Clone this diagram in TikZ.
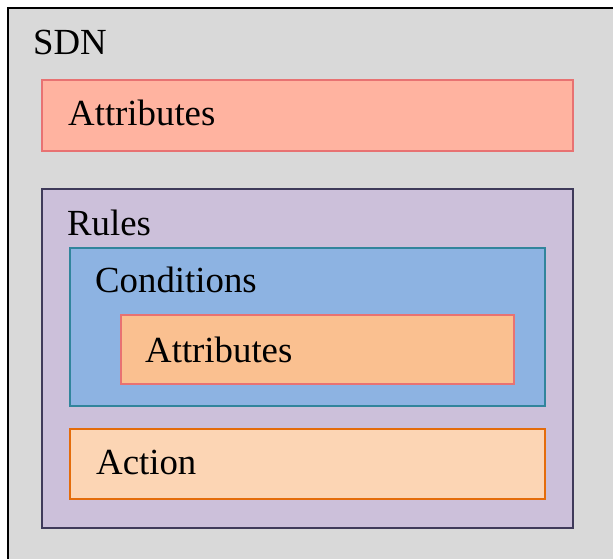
\documentclass[tikz,border=0pt]{standalone}
\usepackage{fontspec}
\setmainfont{Liberation Serif}
\definecolor{sdnfill}{HTML}{D9D9D9}
\definecolor{redfill}{HTML}{FFB3A0}
\definecolor{redline}{HTML}{E87272}
\definecolor{rulefill}{HTML}{CCC0DA}
\definecolor{ruleline}{HTML}{3F3A5A}
\definecolor{condfill}{HTML}{8DB3E2}
\definecolor{condline}{HTML}{31859C}
\definecolor{attrfill}{HTML}{FAC090}
\definecolor{actfill}{HTML}{FCD5B4}
\definecolor{actline}{HTML}{E46C0A}
\tikzset{
  box/.style={rectangle, anchor=north west, inner sep=0pt, line width=2pt},
  lbl/.style={anchor=base west, inner sep=0pt, font=\fontsize{36.8}{40}\selectfont}
}
\begin{document}
\begin{tikzpicture}[x=1pt, y=-1pt]
\useasboundingbox (0,0) rectangle (613,559);
\fill[white] (0,0) rectangle (613,559);
% outer SDN container, running past the right and bottom edges
\begin{scope}
\clip (0,0) rectangle (613,559);
\node[box, draw=black, line width=2.4pt, fill=sdnfill, minimum width=620pt, minimum height=570pt] (sdn) at (7,7) {};
\end{scope}
\node[lbl] (sdnlbl) at (33,55) {SDN};

% top-level attributes
\node[box, draw=redline, fill=redfill, minimum width=531pt, minimum height=71pt] (attr) at (41,79) {};
\node[lbl] (attrlbl) at (68,126) {Attributes};

% rules
\node[box, draw=ruleline, fill=rulefill, minimum width=531pt, minimum height=339pt] (rules) at (41,188) {};
\node[lbl] (ruleslbl) at (67,235) {Rules};

% conditions
\node[box, draw=condline, fill=condfill, minimum width=475pt, minimum height=158pt] (cond) at (69,247) {};
\node[lbl] (condlbl) at (95,292) {Conditions};

% attributes inside conditions
\node[box, draw=redline, fill=attrfill, minimum width=393pt, minimum height=69pt] (cattr) at (120,314) {};
\node[lbl] (cattrlbl) at (145,362) {Attributes};

% action
\node[box, draw=actline, fill=actfill, minimum width=475pt, minimum height=70pt] (act) at (69,428) {};
\node[lbl] (actlbl) at (96,474) {Action};
\end{tikzpicture}
\end{document}
